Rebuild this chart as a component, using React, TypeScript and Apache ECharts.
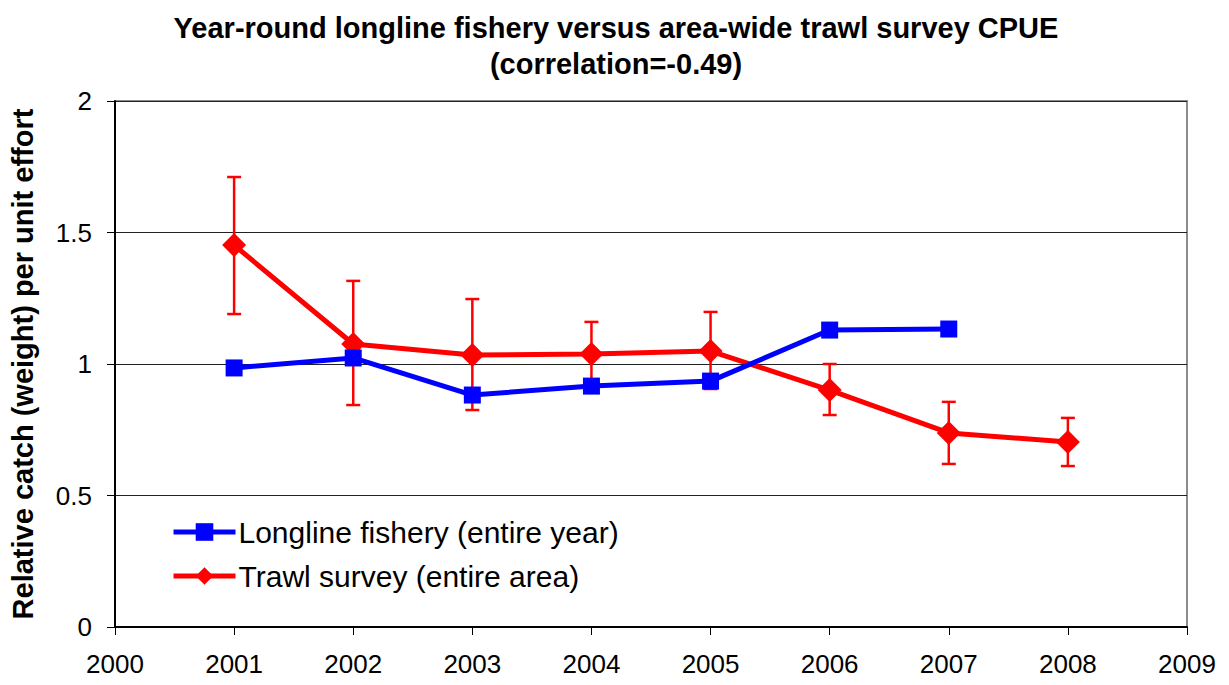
import React, { useEffect, useRef } from "react";
import * as echarts from "echarts";

const years = [2001, 2002, 2003, 2004, 2005, 2006, 2007, 2008];
const longline = [0.985, 1.023, 0.882, 0.916, 0.935, 1.129, 1.133, null];
const trawl = [1.452, 1.076, 1.034, 1.038, 1.049, 0.901, 0.738, 0.703];
const trawlLow = [1.19, 0.844, 0.825, 0.916, 0.905, 0.806, 0.62, 0.612];
const trawlHigh = [1.711, 1.316, 1.247, 1.16, 1.198, 1.0, 0.856, 0.795];

const FONT = "'Liberation Sans', Arial, sans-serif";

export default function App() {
  const ref = useRef<HTMLDivElement>(null);

  useEffect(() => {
    if (!ref.current) return;
    const chart = echarts.init(ref.current, undefined, { renderer: "svg" });

    const errData = years.map((y, i) => [y, trawlLow[i], trawlHigh[i]]);

    chart.setOption({
      animation: false,
      backgroundColor: "#ffffff",
      title: {
        text: "Year-round longline fishery versus area-wide trawl survey CPUE\n(correlation=-0.49)",
        left: 611,
        textAlign: "center",
        top: 5,
        textStyle: {
          fontFamily: FONT,
          fontWeight: "bold",
          fontSize: 29,
          lineHeight: 36,
          color: "#000",
        },
      },
      legend: {
        data: ["Longline fishery (entire year)", "Trawl survey (entire area)"],
        orient: "vertical",
        left: 166,
        top: 512,
        itemWidth: 62,
        itemHeight: 22,
        itemGap: 14,
        lineStyle: { width: 5 },
        textStyle: { fontFamily: FONT, fontSize: 30, color: "#000", padding: [0, 0, 0, -2] },
      },
      grid: {
        left: 113,
        right: 42,
        top: 101,
        bottom: 58,
        show: true,
        borderColor: "#8c8c8c",
        borderWidth: 2,
      },
      xAxis: {
        type: "value",
        min: 2000,
        max: 2009,
        interval: 1,
        axisLine: { show: true, lineStyle: { color: "#000", width: 2 } },
        axisTick: { show: true, length: 8, lineStyle: { color: "#000", width: 1 } },
        splitLine: { show: false },
        axisLabel: {
          fontFamily: FONT,
          fontSize: 26,
          color: "#000",
          margin: 24,
          formatter: (v: number) => String(v),
        },
      },
      yAxis: {
        type: "value",
        min: 0,
        max: 2,
        interval: 0.5,
        name: "Relative catch (weight) per unit effort",
        nameLocation: "middle",
        nameGap: 78,
        nameTextStyle: {
          fontFamily: FONT,
          fontWeight: "bold",
          fontSize: 29,
          color: "#000",
        },
        axisLine: { show: true, lineStyle: { color: "#000", width: 2 } },
        axisTick: { show: true, length: 8, lineStyle: { color: "#000", width: 1 } },
        splitLine: { show: true, lineStyle: { color: "#222", width: 1 } },
        axisLabel: {
          fontFamily: FONT,
          fontSize: 26,
          color: "#000",
          margin: 23,
          formatter: (v: number) => String(v),
        },
      },
      series: [
        {
          name: "trawl-error",
          type: "custom",
          z: 1,
          data: errData,
          renderItem: (params: any, api: any) => {
            const x = api.value(0);
            const lo = api.coord([x, api.value(1)]);
            const hi = api.coord([x, api.value(2)]);
            const cap = 7;
            const style = { stroke: "#ff0000", lineWidth: 2.5 };
            return {
              type: "group",
              children: [
                { type: "line", shape: { x1: lo[0], y1: lo[1], x2: hi[0], y2: hi[1] }, style },
                { type: "line", shape: { x1: hi[0] - cap, y1: hi[1], x2: hi[0] + cap, y2: hi[1] }, style },
                { type: "line", shape: { x1: lo[0] - cap, y1: lo[1], x2: lo[0] + cap, y2: lo[1] }, style },
              ],
            };
          },
        },
        {
          name: "Longline fishery (entire year)",
          type: "line",
          z: 3,
          data: years.map((y, i) => [y, longline[i]]).filter((d) => d[1] !== null),
          color: "#0000ff",
          lineStyle: { color: "#0000ff", width: 5 },
          symbol: "rect",
          symbolSize: 17,
          itemStyle: { color: "#0000ff" },
        },
        {
          name: "Trawl survey (entire area)",
          type: "line",
          z: 2,
          data: years.map((y, i) => [y, trawl[i]]),
          color: "#ff0000",
          lineStyle: { color: "#ff0000", width: 5 },
          symbol: "diamond",
          symbolSize: 24,
          itemStyle: { color: "#ff0000" },
        },
      ],
    });

    return () => chart.dispose();
  }, []);

  return <div ref={ref} style={{ width: 1229, height: 685, position: "absolute", left: 0, top: 0 }} />;
}
